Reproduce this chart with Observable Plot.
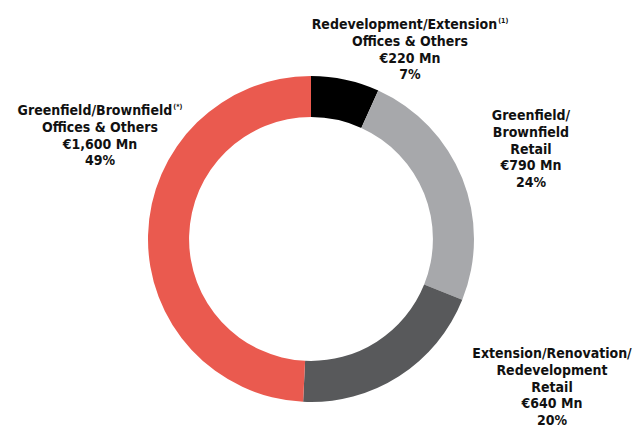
<!DOCTYPE html>
<html>
<head>
<meta charset="utf-8">
<script src="https://cdn.jsdelivr.net/npm/d3@7"></script>
<script src="https://cdn.jsdelivr.net/npm/@observablehq/plot@0.6"></script>
<style>
  html, body { margin: 0; padding: 0; background: #fff; }
  #wrap { position: relative; width: 637px; height: 427px; overflow: hidden; }
  .lbl { position: absolute; transform: translateX(-50%); text-align: center; white-space: nowrap;
         font-family: "DejaVu Sans Condensed", "DejaVu Sans", sans-serif; font-weight: bold;
         font-size: 14px; line-height: 16.8px; color: #111; }
  .lbl sup { font-size: 7px; line-height: 0; vertical-align: 0; position: relative; top: -6px; margin-left: 1px; }
</style>
</head>
<body>
<div id="wrap"></div>
<script>
const categories = [
  "Redevelopment/Extension Offices & Others",
  "Greenfield/Brownfield Retail",
  "Extension/Renovation/Redevelopment Retail",
  "Greenfield/Brownfield Offices & Others"
];
const values = [220, 790, 640, 1600];
const amounts = ["€220 Mn", "€790 Mn", "€640 Mn", "€1,600 Mn"];
const shares = ["7%", "24%", "20%", "49%"];
const colors = ["#000000", "#a7a8ab", "#58595b", "#ea5a4f"];
const labelLines = [
  ["Redevelopment/Extension<sup>(1)</sup>", "Offices &amp; Others"],
  ["Greenfield/", "Brownfield", "Retail"],
  ["Extension/Renovation/", "Redevelopment", "Retail"],
  ["Greenfield/Brownfield<sup>(*)</sup>", "Offices &amp; Others"]
];
// label anchor (center x, top y) in pixels - layout only
const labelPos = [[410, 16], [531, 107], [552, 345], [100, 102]];

const data = categories.map((c, i) => ({category: c, value: values[i], color: colors[i]}));

const donut = (index, scales) => {
  const {x, y} = scales;
  const cx = x(0), cy = y(0);
  const R = x(1) - x(0);
  const r = R * 0.748;
  const arcs = d3.pie().sort(null).value(d => d.value)(data);
  const arc = d3.arc().innerRadius(r).outerRadius(R);
  const g = d3.create("svg:g").attr("transform", `translate(${cx},${cy})`);
  g.selectAll("path").data(arcs).join("path")
    .attr("d", arc)
    .attr("fill", d => d.data.color);
  return g.node();
};

const chart = Plot.plot({
  width: 637,
  height: 427,
  margin: 0,
  x: {domain: [-1, 1], range: [148, 474], axis: null},
  y: {domain: [-1, 1], range: [402, 76], axis: null},
  style: {background: "#fff"},
  marks: [donut]
});

const wrap = document.getElementById("wrap");
wrap.appendChild(chart);
labelLines.forEach((lines, i) => {
  const div = document.createElement("div");
  div.className = "lbl";
  div.style.left = labelPos[i][0] + "px";
  div.style.top = labelPos[i][1] + "px";
  div.innerHTML = [...lines, amounts[i], shares[i]].join("<br>");
  wrap.appendChild(div);
});
</script>
</body>
</html>
